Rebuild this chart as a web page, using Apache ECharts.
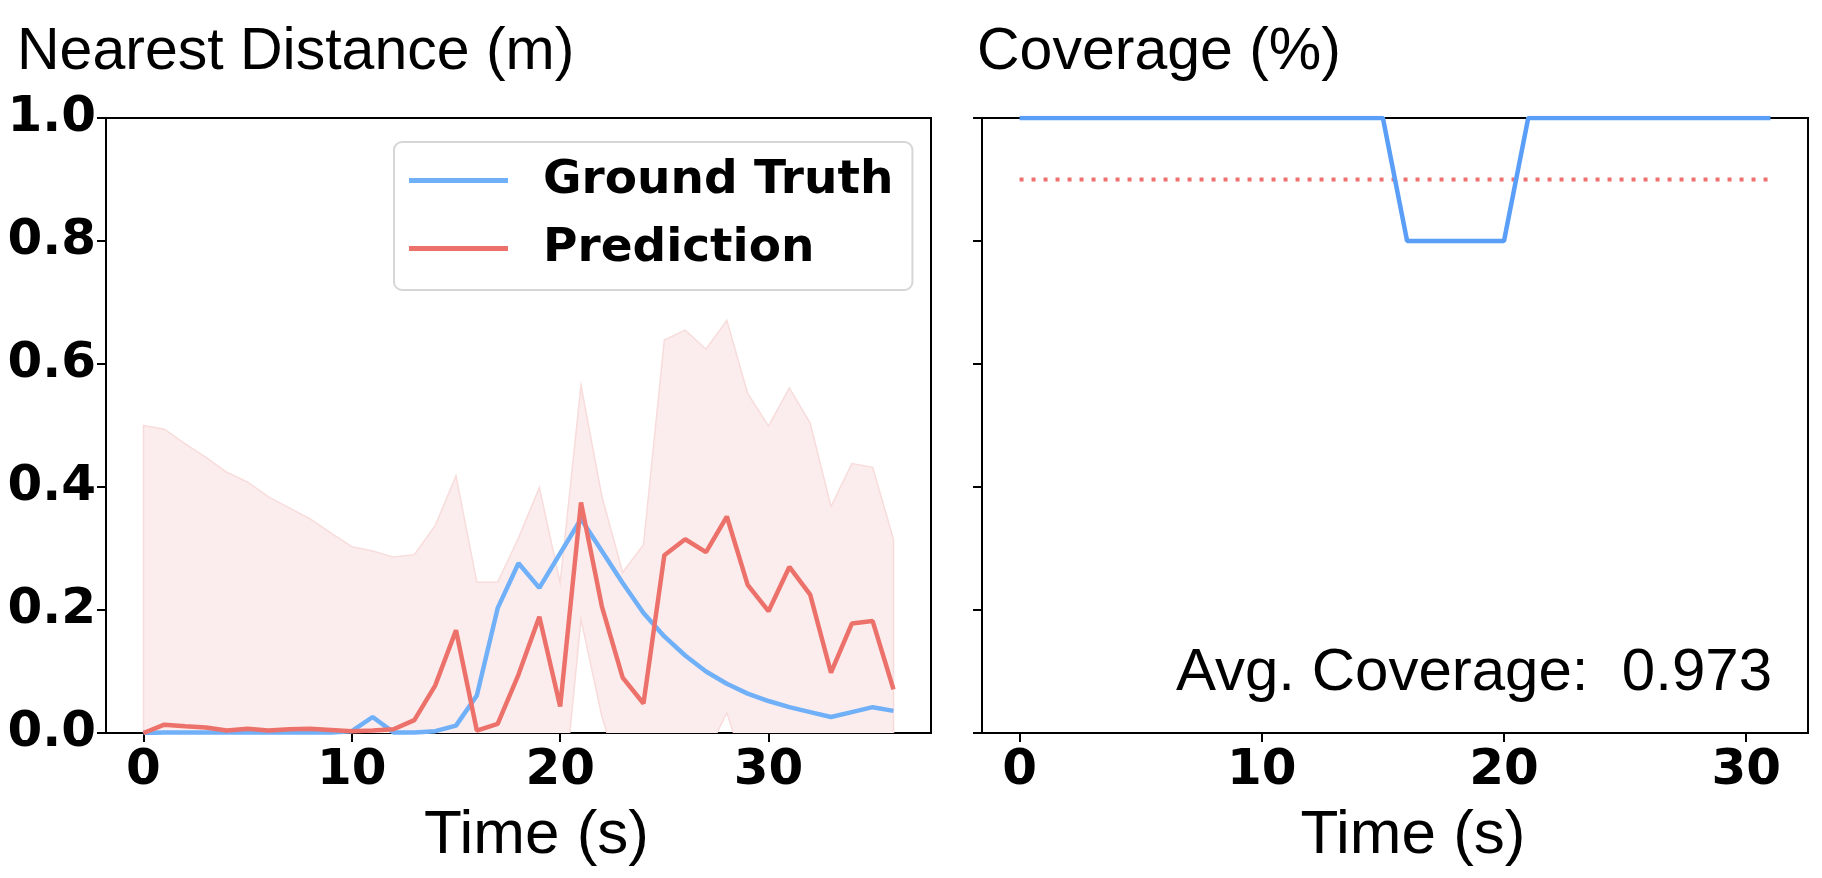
<!DOCTYPE html>
<html>
<head>
<meta charset="utf-8">
<title>Nearest Distance / Coverage</title>
<script src="https://cdn.jsdelivr.net/npm/echarts@6/dist/echarts.min.js"></script>
<style>
  html, body { margin: 0; padding: 0; background: #fff; }
  #main { width: 1822px; height: 878px; }
</style>
</head>
<body>
<div id="main"></div>
<script>
// time steps (s) for the distance plot
const times = [0, 1, 2, 3, 4, 5, 6, 7, 8, 9, 10, 11, 12, 13, 14, 15, 16, 17, 18,
  19, 20, 21, 22, 23, 24, 25, 26, 27, 28, 29, 30, 31, 32, 33, 34, 35, 36];

const gtDist = [0.000, 0.001, 0.001, 0.001, 0.001, 0.001, 0.001, 0.001, 0.001, 0.001,
  0.003, 0.026, 0.001, 0.001, 0.003, 0.012, 0.061, 0.203, 0.276, 0.236,
  0.292, 0.348, 0.296, 0.244, 0.195, 0.157, 0.126, 0.100, 0.080, 0.064,
  0.052, 0.042, 0.034, 0.026, 0.034, 0.042, 0.036];

const predDist = [0.000, 0.0135, 0.011, 0.009, 0.004, 0.007, 0.004, 0.006, 0.007, 0.005,
  0.003, 0.004, 0.006, 0.021, 0.077, 0.167, 0.004, 0.015, 0.095, 0.189,
  0.043, 0.375, 0.206, 0.090, 0.048, 0.289, 0.315, 0.294, 0.352, 0.241,
  0.198, 0.270, 0.225, 0.098, 0.178, 0.182, 0.071];

// uncertainty band around the prediction
const bandHigh = [0.500, 0.494, 0.470, 0.448, 0.424, 0.408, 0.384, 0.366, 0.348, 0.325,
  0.303, 0.296, 0.286, 0.290, 0.337, 0.418, 0.245, 0.245, 0.317, 0.399,
  0.244, 0.565, 0.385, 0.261, 0.306, 0.639, 0.655, 0.624, 0.671, 0.552,
  0.499, 0.561, 0.504, 0.368, 0.438, 0.432, 0.315];

const bandLow = [-0.500, -0.467, -0.448, -0.430, -0.416, -0.394, -0.376, -0.354, -0.334, -0.315,
  -0.297, -0.288, -0.274, -0.248, -0.183, -0.084, -0.237, -0.215, -0.127, -0.021,
  -0.158, 0.185, 0.027, -0.081, -0.210, -0.061, -0.025, -0.036, 0.033, -0.070,
  -0.103, -0.021, -0.054, -0.172, -0.082, -0.068, -0.173];

// coverage plot
const covTimes = [0, 1, 2, 3, 4, 5, 6, 7, 8, 9, 10, 11, 12, 13, 14, 15,
  16, 17, 18, 19, 20, 21, 22, 23, 24, 25, 26, 27, 28, 29, 30, 31];
const coverage = [1, 1, 1, 1, 1, 1, 1, 1, 1, 1, 1, 1, 1, 1, 1, 1,
  0.8, 0.8, 0.8, 0.8, 0.8, 1, 1, 1, 1, 1, 1, 1, 1, 1, 1, 1];
const targetCoverage = 0.9;
const avgCoverage = 0.973;

const xTicks = [0, 10, 20, 30];

const sansFont = 'Liberation Sans';
const tickFont = { fontFamily: 'DejaVu Sans', fontWeight: 'bold', fontSize: 50, color: '#000' };

function pairs(xs, ys) {
  return xs.map((x, i) => [x, ys[i]]);
}

var myChart = echarts.init(document.getElementById('main'));

function xAxisFor(gridIndex, min, max) {
  return {
    gridIndex: gridIndex,
    type: 'value',
    min: min,
    max: max,
    name: 'Time (s)',
    nameLocation: 'middle',
    nameGap: 72,
    nameTextStyle: { fontFamily: sansFont, fontSize: 62, color: '#000', padding: [0, 0, 0, 36] },
    axisLine: { onZero: false, lineStyle: { color: '#000', width: 2 } },
    axisTick: { customValues: xTicks, length: 9, lineStyle: { color: '#000', width: 2 } },
    axisLabel: Object.assign({ customValues: xTicks, margin: 13 }, tickFont),
    splitLine: { show: false }
  };
}

function yAxisFor(gridIndex, showLabels) {
  return {
    gridIndex: gridIndex,
    type: 'value',
    min: 0,
    max: 1,
    interval: 0.2,
    axisLine: { show: true, onZero: false, lineStyle: { color: '#000', width: 2 } },
    axisTick: { show: true, length: 9, lineStyle: { color: '#000', width: 2 } },
    axisLabel: Object.assign({
      show: showLabels,
      margin: 10,
      formatter: function (v) { return v.toFixed(1); }
    }, tickFont),
    splitLine: { show: false }
  };
}

// shaded band drawn as one polygon through the axis scales
function renderBand(params, api) {
  var pts = [];
  for (var i = 0; i < times.length; i++) {
    pts.push(api.coord([times[i], bandHigh[i]]));
  }
  for (var j = times.length - 1; j >= 0; j--) {
    pts.push(api.coord([times[j], bandLow[j]]));
  }
  return {
    type: 'polygon',
    shape: { points: pts },
    style: { fill: '#fbeded', stroke: '#f8dcdb', lineWidth: 1.5 },
    silent: true
  };
}

var option = {
  backgroundColor: '#fff',
  animation: false,
  title: [
    {
      text: 'Nearest Distance (m)',
      left: 12,
      top: 18,
      textStyle: { fontFamily: sansFont, fontWeight: 'normal', fontSize: 59, color: '#000' }
    },
    {
      text: 'Coverage (%)',
      left: 972,
      top: 18,
      textStyle: { fontFamily: sansFont, fontWeight: 'normal', fontSize: 59, color: '#000' }
    }
  ],
  grid: [
    { left: 106, right: 891, top: 118, bottom: 145, show: true, borderColor: '#000', borderWidth: 2 },
    { left: 982, right: 14, top: 118, bottom: 145, show: true, borderColor: '#000', borderWidth: 2 }
  ],
  xAxis: [xAxisFor(0, -1.8, 37.8), xAxisFor(1, -1.55, 32.55)],
  yAxis: [yAxisFor(0, true), yAxisFor(1, false)],
  legend: {
    data: ['Ground Truth', 'Prediction'],
    orient: 'vertical',
    left: 394,
    top: 142,
    padding: [12, 19, 15, 15],
    itemWidth: 99,
    itemHeight: 5,
    itemGap: 15,
    icon: 'rect',
    backgroundColor: 'rgba(255,255,255,0.8)',
    borderColor: '#d6d6d6',
    borderWidth: 2,
    borderRadius: 8,
    textStyle: Object.assign({}, tickFont, { fontSize: 47, padding: [0, 0, 0, 30], lineHeight: 53 })
  },
  graphic: [
    {
      type: 'text',
      x: 1772,
      y: 673,
      style: {
        text: 'Avg. Coverage:  ' + avgCoverage.toFixed(3),
        font: 'normal 60px "Liberation Sans"',
        fill: '#000',
        textAlign: 'right',
        textVerticalAlign: 'middle'
      }
    }
  ],
  series: [
    {
      name: 'band',
      type: 'custom',
      xAxisIndex: 0,
      yAxisIndex: 0,
      data: [0],
      clip: true,
      renderItem: renderBand,
      z: 1
    },
    {
      name: 'Ground Truth',
      type: 'line',
      xAxisIndex: 0,
      yAxisIndex: 0,
      data: pairs(times, gtDist),
      showSymbol: false,
      color: '#70b0f8',
      lineStyle: { color: '#70b0f8', width: 4.5 },
      z: 3
    },
    {
      name: 'Prediction',
      type: 'line',
      xAxisIndex: 0,
      yAxisIndex: 0,
      data: pairs(times, predDist),
      showSymbol: false,
      color: '#ed716b',
      lineStyle: { color: '#ed716b', width: 4.5 },
      z: 4
    },
    {
      name: 'Coverage',
      type: 'line',
      xAxisIndex: 1,
      yAxisIndex: 1,
      data: pairs(covTimes, coverage),
      showSymbol: false,
      lineStyle: { color: '#5a9ef8', width: 4.5 },
      z: 3
    },
    {
      name: 'Target',
      type: 'line',
      xAxisIndex: 1,
      yAxisIndex: 1,
      data: [[covTimes[0], targetCoverage], [covTimes[covTimes.length - 1], targetCoverage]],
      showSymbol: false,
      lineStyle: { color: '#f07070', width: 4, type: [4, 8], cap: 'butt' },
      z: 2
    }
  ]
};

myChart.setOption(option);
</script>
</body>
</html>
